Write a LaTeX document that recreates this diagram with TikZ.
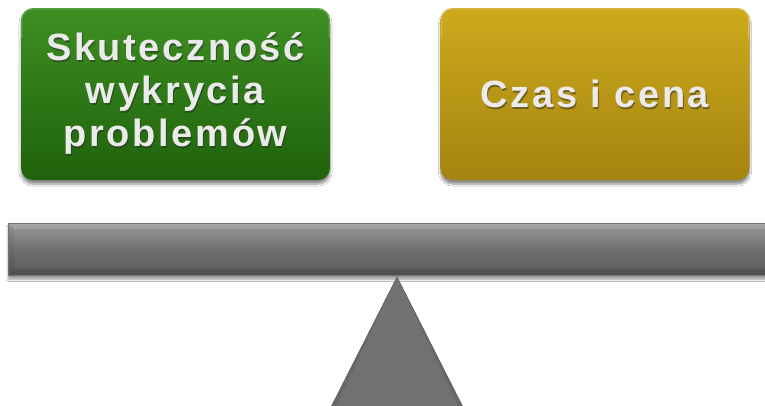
\documentclass[tikz,border=0pt]{standalone}
\usepackage{fontspec}
\setmainfont{Liberation Sans}
\newfontfamily\labelfont[LetterSpace=7]{Liberation Sans Bold}
\usetikzlibrary{shadows.blur}
\definecolor{greenTop}{HTML}{3E8F22}
\definecolor{greenBot}{HTML}{1F620C}
\definecolor{goldTop}{HTML}{CDAA1C}
\definecolor{goldBot}{HTML}{A5830F}
\definecolor{beamTop}{HTML}{9A9A9A}
\definecolor{beamMid}{HTML}{707070}
\definecolor{beamBot}{HTML}{5A5A5A}
\definecolor{pivot}{HTML}{676767}
\definecolor{txtLight}{HTML}{EBEBEB}
\definecolor{txtShade}{HTML}{2A2A2A}
\tikzset{
  panel/.style={rounded corners=12pt, minimum width=309pt, minimum height=172pt,
    blur shadow={shadow xshift=0pt, shadow yshift=-4pt, shadow blur steps=8, shadow opacity=45}},
  caption/.style={align=center, font=\labelfont\fontsize{38}{43}\selectfont, text=txtLight},
  captionshade/.style={align=center, font=\labelfont\fontsize{38}{43}\selectfont, text=txtShade, opacity=0.5}
}
\begin{document}
\begin{tikzpicture}[x=1pt,y=-1pt]
\useasboundingbox (0,0) rectangle (765,405);
\fill[white] (0,0) rectangle (765,405);

% panels
\node[panel, top color=greenTop, bottom color=greenBot] (left) at (175.5,94) {};
\node[panel, top color=goldTop, bottom color=goldBot] (right) at (595,94) {};
% thin light rim along the top edge
\draw[white, opacity=0.25, line width=1pt, rounded corners=11pt]
  ([xshift=1pt,yshift=-30pt]left.north west) |- ([xshift=-1pt,yshift=-1pt]left.north east) -- ++(0,-29pt);
\draw[white, opacity=0.25, line width=1pt, rounded corners=11pt]
  ([xshift=1pt,yshift=-30pt]right.north west) |- ([xshift=-1pt,yshift=-1pt]right.north east) -- ++(0,-29pt);

% labels with a dark halo
\node[captionshade] (leftshade) at ([xshift=1pt,yshift=-1.5pt]left.center) {Skuteczność\\wykrycia\\problemów};
\node[caption] (lefttext) at (left.center) {Skuteczność\\wykrycia\\problemów};
\node[captionshade] (rightshade) at ([xshift=1pt,yshift=-1.5pt]right.center) {Czas i cena};
\node[caption] (righttext) at (right.center) {Czas i cena};

% beam
\node[inner sep=0pt, minimum width=767pt, minimum height=52pt, anchor=north west,
  top color=beamTop, bottom color=beamBot, middle color=beamMid,
  blur shadow={shadow xshift=0pt, shadow yshift=-4pt, shadow blur steps=8, shadow opacity=40}]
  (beam) at (8,223) {};
\fill[white, opacity=0.12] (beam.north west) -- (beam.north east) -- ([yshift=-6pt]beam.north east) -- ([xshift=6pt,yshift=-6pt]beam.north west) -- cycle;
\fill[black, opacity=0.12] ([xshift=6pt,yshift=6pt]beam.south west) -- ([yshift=6pt]beam.south east) -- (beam.south east) -- (beam.south west) -- cycle;
\fill[black, opacity=0.06] (beam.north west) -- ([xshift=6pt,yshift=-6pt]beam.north west) -- ([xshift=6pt,yshift=6pt]beam.south west) -- (beam.south west) -- cycle;
\draw[black!55, line width=0.6pt] (beam.north west) rectangle (beam.south east);

% fulcrum
\coordinate (apex) at (397,277);
\coordinate (baseL) at (326,417);
\coordinate (baseR) at (468,417);
\fill[pivot] (apex) -- (baseR) -- (baseL) -- cycle;
\fill[white, opacity=0.07] (apex) -- ([xshift=-5pt]baseR) -- ([xshift=5pt]baseL) -- cycle;
\draw[black!60, line width=0.7pt] (apex) -- (baseR) -- (baseL) -- cycle;
\end{tikzpicture}
\end{document}
